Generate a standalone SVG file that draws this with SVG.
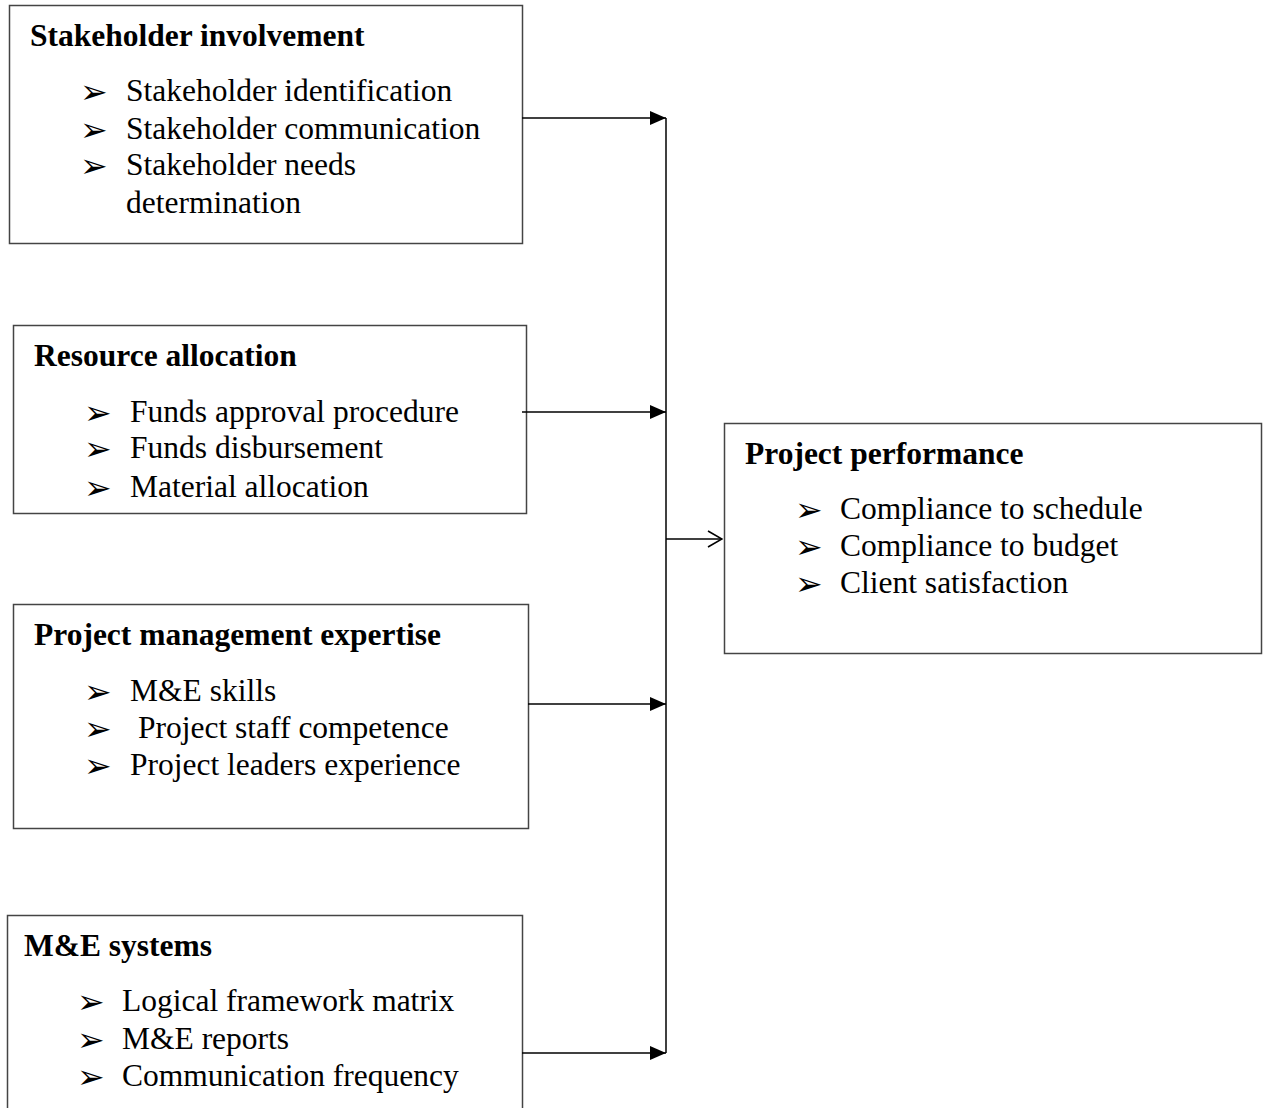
<svg xmlns="http://www.w3.org/2000/svg" width="1268" height="1108" viewBox="0 0 1268 1108">
<defs>
<style>
.box{fill:#fff;stroke:#444;stroke-width:1.5}
.t{font-family:"Liberation Serif","Times New Roman",serif;font-size:31.5px;fill:#000}
.h{font-weight:bold}
.b{font-family:"DejaVu Sans",sans-serif;font-size:33px;fill:#000}
.c{stroke:#000;stroke-width:1.5;fill:none}
</style>
<marker id="fill" viewBox="0 0 16 14" refX="16" refY="7" markerWidth="16" markerHeight="14" markerUnits="userSpaceOnUse" orient="auto">
<path d="M0,0 L16,7 L0,14 Z" fill="#000"/>
</marker>
<marker id="open" viewBox="0 0 16 18" refX="15" refY="9" markerWidth="16" markerHeight="18" markerUnits="userSpaceOnUse" orient="auto">
<path d="M1,1 L15,9 L1,17" fill="none" stroke="#000" stroke-width="1.6"/>
</marker>
</defs>
<rect width="1268" height="1108" fill="#fff"/>
<g id="stakeholder">
<rect class="box" x="9.5" y="5.5" width="513" height="238"/>
<text class="t h" x="30" y="46">Stakeholder involvement</text>
<text class="b" x="80" y="103">➢</text><text class="t" x="126" y="101">Stakeholder identification</text>
<text class="b" x="80" y="141">➢</text><text class="t" x="126" y="139">Stakeholder communication</text>
<text class="b" x="80" y="177">➢</text><text class="t" x="126" y="175">Stakeholder needs</text>
<text class="t" x="126" y="213">determination</text>
</g>
<g id="resource">
<rect class="box" x="13.5" y="325.5" width="513" height="188"/>
<text class="t h" x="34" y="366">Resource allocation</text>
<text class="b" x="84" y="424">➢</text><text class="t" x="130" y="422">Funds approval procedure</text>
<text class="b" x="84" y="460">➢</text><text class="t" x="130" y="458">Funds disbursement</text>
<text class="b" x="84" y="499">➢</text><text class="t" x="130" y="497">Material allocation</text>
</g>
<g id="expertise">
<rect class="box" x="13.5" y="604.5" width="515" height="224"/>
<text class="t h" x="34" y="645">Project management expertise</text>
<text class="b" x="84" y="703">➢</text><text class="t" x="130" y="701">M&amp;E skills</text>
<text class="b" x="84" y="740">➢</text><text class="t" x="138" y="738">Project staff competence</text>
<text class="b" x="84" y="777">➢</text><text class="t" x="130" y="775">Project leaders experience</text>
</g>
<g id="me-systems">
<rect class="box" x="7.5" y="915.5" width="515" height="200"/>
<text class="t h" x="24" y="956">M&amp;E systems</text>
<text class="b" x="77" y="1013">➢</text><text class="t" x="122" y="1011">Logical framework matrix</text>
<text class="b" x="77" y="1051">➢</text><text class="t" x="122" y="1049">M&amp;E reports</text>
<text class="b" x="77" y="1088">➢</text><text class="t" x="122" y="1086">Communication frequency</text>
</g>
<g id="performance">
<rect class="box" x="724.5" y="423.5" width="537" height="230"/>
<text class="t h" x="745" y="464">Project performance</text>
<text class="b" x="795" y="521">➢</text><text class="t" x="840" y="519">Compliance to schedule</text>
<text class="b" x="795" y="558">➢</text><text class="t" x="840" y="556">Compliance to budget</text>
<text class="b" x="795" y="595">➢</text><text class="t" x="840" y="593">Client satisfaction</text>
</g>
<g id="connectors">
<line class="c" x1="666" y1="118" x2="666" y2="1053"/>
<line class="c" x1="522" y1="118" x2="666" y2="118" marker-end="url(#fill)"/>
<line class="c" x1="522" y1="412" x2="666" y2="412" marker-end="url(#fill)"/>
<line class="c" x1="528" y1="704" x2="666" y2="704" marker-end="url(#fill)"/>
<line class="c" x1="522" y1="1053" x2="666" y2="1053" marker-end="url(#fill)"/>
<line class="c" x1="666" y1="539" x2="722" y2="539" marker-end="url(#open)"/>
</g>
</svg>
